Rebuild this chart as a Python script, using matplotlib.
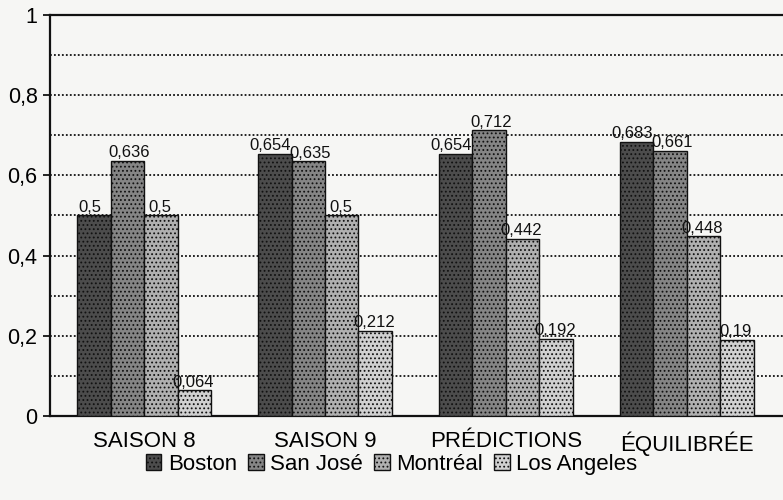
import numpy as np
import matplotlib.pyplot as plt
from matplotlib.patches import Patch

categories = ['SAISON 8', 'SAISON 9', 'PRÉDICTIONS', 'ÉQUILIBRÉE']
teams = ['Boston', 'San José', 'Montréal', 'Los Angeles']
boston = [0.5, 0.654, 0.654, 0.683]
san_jose = [0.636, 0.635, 0.712, 0.661]
montreal = [0.5, 0.5, 0.442, 0.448]
los_angeles = [0.064, 0.212, 0.192, 0.19]

series = [boston, san_jose, montreal, los_angeles]
colors = ['#4c4c4c', '#858585', '#b0b0b0', '#d0d0d0']
# small horizontal nudges of the value labels (data units)
nudges = [-0.025, 0.012, -0.005, -0.005]

plt.rcParams['font.family'] = ['Liberation Sans', 'DejaVu Sans']
plt.rcParams['hatch.linewidth'] = 0.8

fig = plt.figure(figsize=(7.83, 5.0), dpi=100, facecolor='#f6f6f4')
ax = fig.add_axes([0.064, 0.168, 0.94, 0.802])
ax.set_facecolor('#f6f6f4')

x = np.arange(len(categories))
width = 0.185
for i, (vals, col) in enumerate(zip(series, colors)):
    pos = x + (i - 1.5) * width
    bars = ax.bar(pos, vals, width, color=col, edgecolor='#111111',
                  linewidth=1.0, hatch='....', zorder=3)
    for b, v in zip(bars, vals):
        lbl = ('%g' % v).replace('.', ',')
        ax.text(b.get_x() + b.get_width() / 2 + nudges[i], v + 0.002, lbl,
                ha='center', va='bottom', fontsize=12, color='#111111', zorder=4)

ax.set_xlim(-0.52, 3.55)
ax.set_ylim(0, 1)
ax.set_yticks(np.arange(0, 1.01, 0.2))
ax.set_yticklabels(['0', '0,2', '0,4', '0,6', '0,8', '1'], fontsize=15.5)
ax.set_yticks(np.arange(0.1, 1.0, 0.1), minor=True)
ax.tick_params(axis='y', which='minor', length=0)
ax.tick_params(axis='y', which='major', length=5, width=1.2, direction='out', pad=4)
ax.grid(axis='y', which='both', linestyle=(0, (1, 1.2)), color='#111111',
        linewidth=1.3, zorder=0)

ax.set_xticks(x)
ax.set_xticklabels(categories, fontsize=16)
ax.tick_params(axis='x', length=0, pad=11)

for s in ['left', 'top', 'bottom']:
    ax.spines[s].set_linewidth(1.6)
    ax.spines[s].set_color('#111111')
ax.spines['right'].set_visible(False)

handles = [Patch(facecolor=c, edgecolor='#111111', hatch='....', label=t)
           for c, t in zip(colors, teams)]
fig.legend(handles=handles, loc='center', bbox_to_anchor=(0.5, 0.071),
           ncol=4, frameon=False, fontsize=16, handlelength=0.7,
           handleheight=0.7, handletextpad=0.3, columnspacing=0.5)

fig.savefig('out.png', dpi=100, facecolor=fig.get_facecolor())
